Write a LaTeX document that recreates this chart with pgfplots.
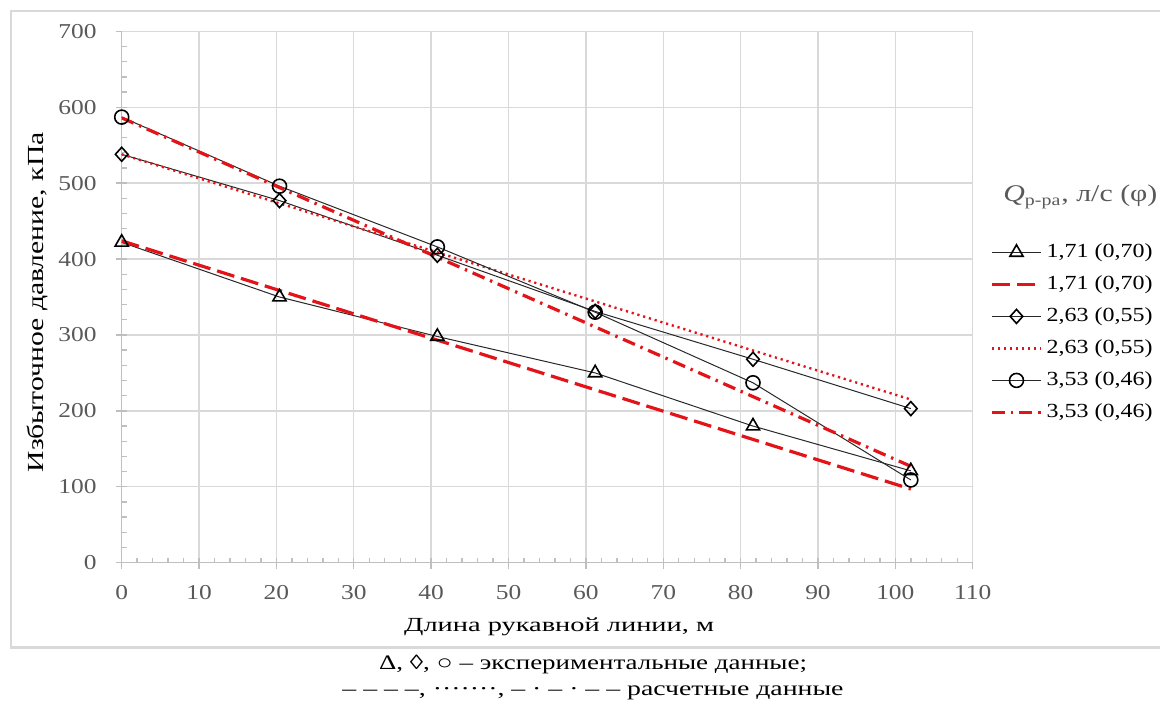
\documentclass[border=0pt]{standalone}
\usepackage{pgfplots}
\pgfplotsset{compat=1.18}
\usepackage{graphicx}
\usepackage{fontspec}
\setmainfont[FakeStretch=1.2]{Liberation Serif}

\definecolor{redline}{RGB}{226,20,26}
\definecolor{gridgray}{RGB}{217,217,217}
\definecolor{axisgray}{RGB}{191,191,191}
\definecolor{textgray}{RGB}{89,89,89}
\definecolor{framegray}{RGB}{217,217,217}
\definecolor{darkline}{RGB}{40,40,40}

\begin{document}
\begin{tikzpicture}
\useasboundingbox (0,0) rectangle (580pt,-353.5pt);
\draw[framegray, line width=1.2pt] (5.5pt,-5.5pt) rectangle (600pt,-323.8pt);

\begin{axis}[
    at={(60.85pt,-281.35pt)}, anchor=south west,
    scale only axis,
    width=425.5pt, height=265.7pt,
    xmin=0, xmax=110, ymin=0, ymax=700,
    axis x line*=bottom, axis y line*=left,
    axis line style={axisgray, line width=0.7pt},
    xtick={0,10,...,110}, ytick={0,100,...,700},
    grid=major,
    major grid style={gridgray, line width=0.7pt},
    tick align=outside,
    major tick length=3pt,
    tick style={axisgray, line width=0.7pt},
    extra x ticks={2,4,...,108},
    extra x tick labels={},
    extra x tick style={tick align=inside, major tick length=2.5pt, grid=none},
    extra y ticks={20,40,...,680},
    extra y tick labels={},
    extra y tick style={tick align=inside, major tick length=2.5pt, grid=none},
    /pgf/number format/assume math mode=true,
    tick label style={font=\fontsize{10.6}{12}\selectfont, text=textgray},
    xticklabel style={yshift=-5pt},
    yticklabel style={xshift=-6pt},
    xlabel={\resizebox{155pt}{\height}{Длина рукавной линии, м}},
    ylabel={\resizebox{170pt}{1.15\height}{Избыточное давление, кПа}},
    label style={font=\fontsize{12.5}{14}\selectfont, text=textgray},
    every axis x label/.style={at={(axis description cs:0.514,-0.1204)}, anchor=center},
    every axis y label/.style={at={(axis description cs:-0.0984,0.49)}, rotate=90, anchor=center},
    legend style={at={(axis description cs:1.0203,0.6035)}, anchor=north west,
        draw=none, fill=none, inner sep=0pt,
        font=\fontsize{10}{12}\selectfont,
        nodes={text height=7.5pt, text depth=2.5pt, inner ysep=0pt},
        row sep=6.0pt},
    legend cell align=left,
    legend image code/.code={\draw[mark repeat=2,mark phase=2] plot coordinates {(0pt,0pt) (12.25pt,0pt) (24.5pt,0pt)};},
]

\addplot[darkline, line width=0.5pt, mark=triangle, mark size=3.8pt, mark options={solid, black, line width=0.8pt}]
    coordinates {(0,422) (20.4,350) (40.8,298) (61.2,250) (81.6,180) (102,121)};
\addplot[redline, line width=1.6pt, dash pattern=on 9pt off 3.5pt]
    coordinates {(0,424) (102,97)};
\addplot[darkline, line width=0.5pt, mark=diamond, mark size=3.5pt, mark options={solid, black, line width=0.8pt, xscale=1.2}]
    coordinates {(0,538) (20.4,477) (40.8,405) (61.2,331) (81.6,268) (102,203)};
\addplot[redline, line width=1.2pt, dash pattern=on 1.1pt off 1.9pt]
    coordinates {(0,538) (102,215)};
\addplot[darkline, line width=0.5pt, mark=o, mark size=3.5pt, mark options={solid, black, line width=0.8pt}]
    coordinates {(0,587) (20.4,496) (40.8,416) (61.2,330) (81.6,237) (102,109)};
\addplot[redline, line width=1.6pt, dash pattern=on 6.5pt off 3pt on 1.2pt off 3pt]
    coordinates {(0,586) (102,127)};

\legend{{1,71 (0,70)}, {1,71 (0,70)}, {2,63 (0,55)}, {2,63 (0,55)}, {3,53 (0,46)}, {3,53 (0,46)}}
\end{axis}

\node[anchor=west, text=textgray, font=\fontsize{12}{14}\selectfont, inner sep=0pt]
    at (501.5pt,-98.5pt) {\resizebox{77pt}{\height}{\textit{Q}\textsubscript{р-ра}, л/с (φ)}};

\node[font=\fontsize{10.3}{12}\selectfont, inner sep=0pt, anchor=base] at (296.5pt,-334.5pt)
    {\resizebox{214pt}{\height}{Δ, ◊, ○ – экспериментальные данные;}};
\node[font=\fontsize{10.3}{12}\selectfont, inner sep=0pt, anchor=base] at (296.5pt,-347.5pt)
    {\resizebox{250.5pt}{\height}{– – – –, ·······, – · – · – – расчетные данные}};
\end{tikzpicture}
\end{document}
